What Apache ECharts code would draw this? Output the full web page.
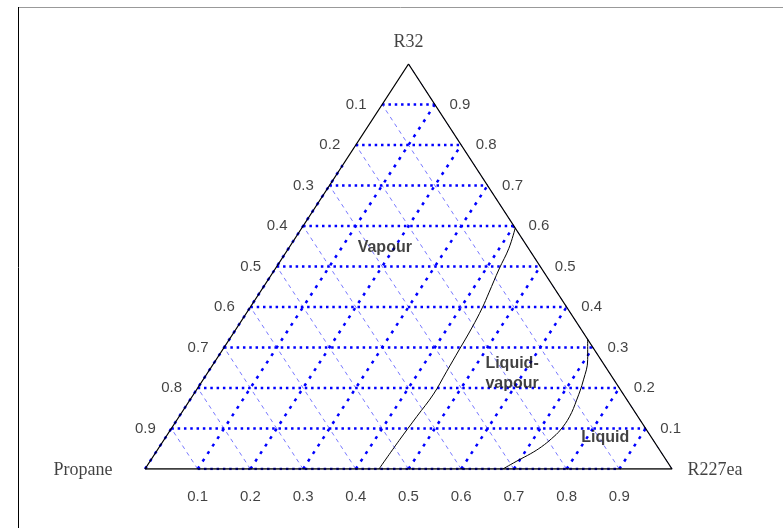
<!DOCTYPE html>
<html>
<head>
<meta charset="utf-8">
<script src="https://cdn.jsdelivr.net/npm/echarts@6/dist/echarts.min.js"></script>
<style>html,body{margin:0;padding:0;background:#fff;}#c{width:783px;height:528px;}</style>
</head>
<body>
<div id="c"></div>
<script>
// Grid fractions
const ticks = [0.1, 0.2, 0.3, 0.4, 0.5, 0.6, 0.7, 0.8, 0.9];
const leftLabels = ['0.1', '0.2', '0.3', '0.4', '0.5', '0.6', '0.7', '0.8', '0.9'];   // Propane
const rightLabels = ['0.1', '0.2', '0.3', '0.4', '0.5', '0.6', '0.7', '0.8', '0.9'];  // R32
const bottomLabels = ['0.1', '0.2', '0.3', '0.4', '0.5', '0.6', '0.7', '0.8', '0.9']; // R227ea
const vertexNames = ['Propane', 'R227ea', 'R32'];

// Dew curve (vapour / liquid-vapour boundary): R227ea and R32 mole fractions
const dewR227ea = [0.405, 0.418, 0.425, 0.435, 0.441, 0.446, 0.449, 0.452, 0.455, 0.451, 0.447, 0.444];
const dewR32    = [0.595, 0.545, 0.494, 0.435, 0.398, 0.348, 0.294, 0.240, 0.185, 0.130, 0.070, 0.0];
// Bubble curve (liquid / liquid-vapour boundary)
const bubR227ea = [0.680, 0.705, 0.722, 0.734, 0.741, 0.740, 0.734, 0.725, 0.713, 0.698, 0.679];
const bubR32    = [0.320, 0.270, 0.220, 0.170, 0.129, 0.096, 0.075, 0.055, 0.038, 0.022, 0.0];

// Region labels (R227ea, R32)
const regionNames = ['Vapour', 'Liquid-\nvapour', 'Liquid'];
const regionR227ea = [0.182, 0.579, 0.835];
const regionR32 = [0.546, 0.235, 0.077];

function xy(r, s) { return [r + s / 2, s]; }

const BLUE = '#0000ff';
const series = [];
function seg(pts, style, z) {
  series.push({
    type: 'line', data: pts, symbol: 'none', silent: true, z: z || 2,
    lineStyle: style, animation: false
  });
}
const thickDot = { color: BLUE, width: 2.3, type: [2.5, 3.8] };
const thickDot2 = { color: BLUE, width: 2.5, type: [3, 6] };
const thinDash = { color: '#5555ff', width: 0.8, type: [4, 4] };

ticks.forEach(function (t) {
  // constant Propane (thin dashed, parallel to right edge)
  seg([xy(1 - t, 0), xy(0, 1 - t)], thinDash, 2);
});
ticks.forEach(function (t) {
  // constant R227ea (thick dotted, parallel to left edge)
  seg([xy(t, 0), xy(t, 1 - t)], thickDot2, 3);
  // constant R32 (horizontal thick dotted)
  seg([xy(0, t), xy(1 - t, t)], thickDot, 3);
});
// edge overlays
seg([xy(ticks[0], 0), xy(ticks[8], 0)], thickDot, 3);
seg([xy(0, 0), xy(0, 0.75)], thickDot2, 3);
seg([xy(1, 0), xy(0, 1)], thinDash, 3);

// triangle outline
seg([xy(0, 0), xy(1, 0), xy(0, 1), xy(0, 0)], { color: '#000', width: 1.3 }, 5);

// phase boundaries
seg(dewR227ea.map(function (r, i) { return xy(r, dewR32[i]); }), { color: '#000', width: 1 }, 6);
seg(bubR227ea.map(function (r, i) { return xy(r, bubR32[i]); }), { color: '#000', width: 1 }, 6);
series[series.length - 1].smooth = 0.4;
series[series.length - 2].smooth = 0.4;

const tickFont = { fontFamily: 'Liberation Sans, Arial, sans-serif', fontSize: 15, color: '#111' };
function labelSeries(items) {
  series.push({
    type: 'scatter', symbolSize: 0, silent: true, z: 10, animation: false,
    data: items.map(function (it) {
      return {
        value: it.p,
        label: Object.assign({
          show: true, position: 'inside', formatter: it.text,
          offset: it.off, align: 'center', verticalAlign: 'middle'
        }, it.font)
      };
    })
  });
}
const items = [];
ticks.forEach(function (t, i) {
  items.push({ p: xy(0, 1 - t), text: leftLabels[i], off: [-26, 0], font: tickFont });
  items.push({ p: xy(1 - t, t), text: rightLabels[i], off: [25, 0], font: tickFont });
  items.push({ p: xy(t, 0), text: bottomLabels[i], off: [0, 28], font: tickFont });
});
const vFont = { fontFamily: 'Liberation Serif, Times New Roman, serif', fontSize: 18, color: '#111' };
items.push({ p: xy(0, 0), text: vertexNames[0], off: [-62, 1], font: vFont });
items.push({ p: xy(1, 0), text: vertexNames[1], off: [43, 1], font: vFont });
items.push({ p: xy(0, 1), text: vertexNames[2], off: [0, -22], font: vFont });
const rFont = { fontFamily: 'Liberation Sans, Arial, sans-serif', fontSize: 16, fontWeight: 'bold', color: '#111', lineHeight: 20 };
regionNames.forEach(function (n, i) {
  items.push({ p: xy(regionR227ea[i], regionR32[i]), text: n, off: [0, 0], font: rFont });
});
labelSeries(items);

const chart = echarts.init(document.getElementById('c'), null, { renderer: 'canvas' });
chart.setOption({
  animation: false,
  backgroundColor: '#fff',
  grid: { left: 145, top: 64, width: 527, height: 405, show: false },
  xAxis: { type: 'value', min: 0, max: 1, show: false },
  yAxis: { type: 'value', min: 0, max: 1, show: false },
  graphic: [
    { type: 'line', shape: { x1: 18, y1: 7.5, x2: 783, y2: 7.5 }, style: { stroke: '#999', lineWidth: 1 }, silent: true },
    { type: 'line', shape: { x1: 18.5, y1: 7, x2: 18.5, y2: 528 }, style: { stroke: '#000', lineWidth: 1 }, silent: true }
  ],
  series: series
});
</script>
</body>
</html>
